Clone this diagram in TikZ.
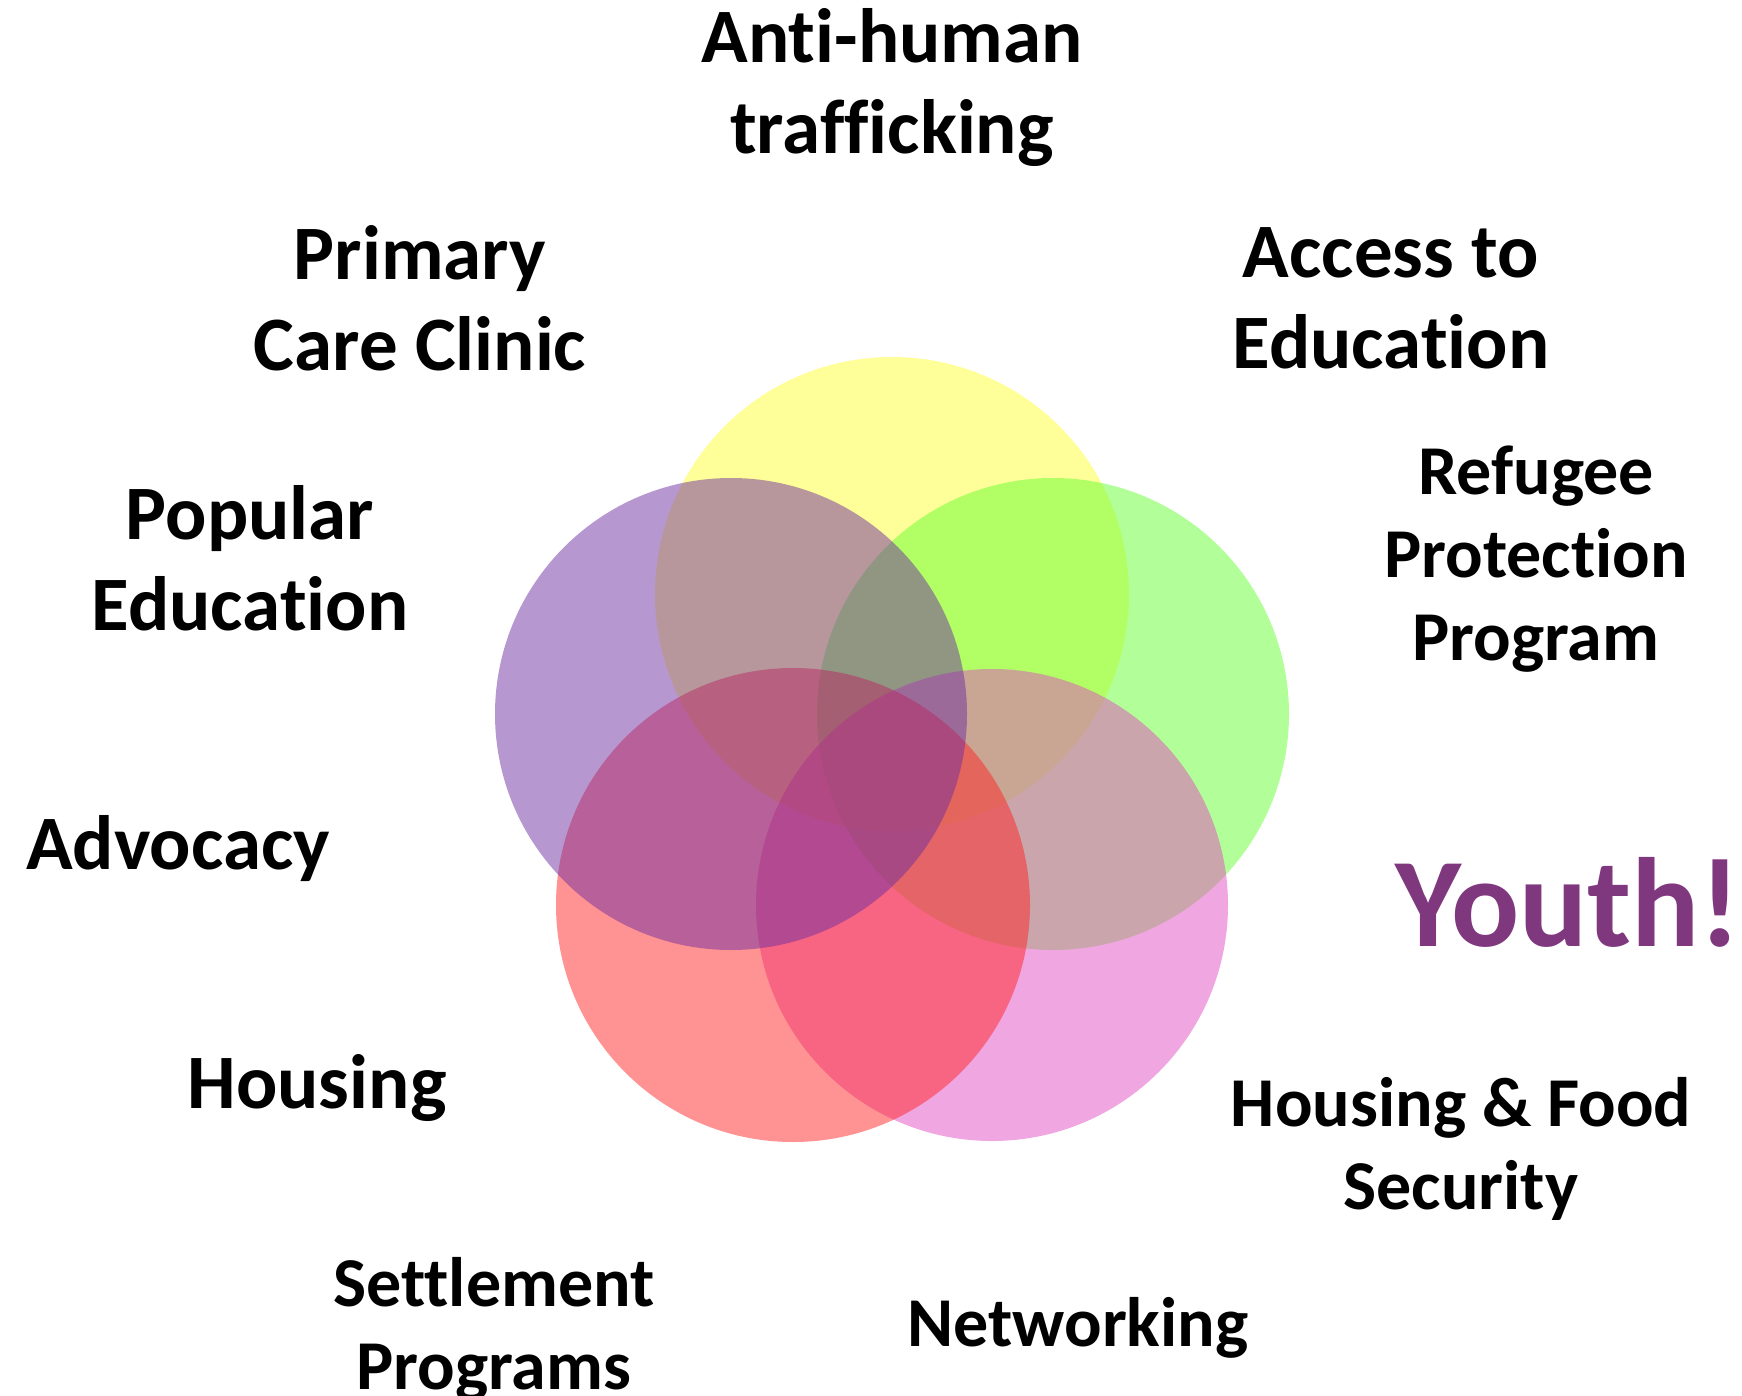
\documentclass[tikz,border=0pt]{standalone}
\usepackage{fontspec}
\setmainfont{Carlito}[Ligatures=NoCommon]
\definecolor{cyellow}{RGB}{255,255,51}
\definecolor{cgreen}{RGB}{102,255,51}
\definecolor{cpink}{RGB}{225,77,193}
\definecolor{cred}{RGB}{255,37,37}
\definecolor{cpurple}{RGB}{112,48,160}
\definecolor{youth}{RGB}{127,55,125}
\tikzset{
  ring/.style={fill=#1, fill opacity=0.5},
  biglabel/.style={align=center, font=\fontsize{77}{91}\selectfont\bfseries},
  smalllabel/.style={align=center, font=\fontsize{70}{83}\selectfont\bfseries},
}
\begin{document}
\begin{tikzpicture}[x=1pt,y=-1pt]
\useasboundingbox (0,0) rectangle (1742,1396);
% the five circles
\coordinate (cy) at (892,594);
\coordinate (cg) at (1053,714);
\coordinate (cp) at (992,905);
\coordinate (cr) at (793,905);
\coordinate (cv) at (731,714);
\fill[ring=cyellow] (cy) circle (237);
\fill[ring=cgreen] (cg) circle (236);
\fill[ring=cpink] (cp) circle (236);
\fill[ring=cred] (cr) circle (237);
\fill[ring=cpurple] (cv) circle (236);

% labels
\node[biglabel] (traffic) at (892,88) {Anti-human\\trafficking};
\node[biglabel] (clinic) at (420,298) {Primary\\Care Clinic};
\node[biglabel] (access) at (1391,298) {Access to\\Education};
\node[biglabel] (popular) at (250,558) {Popular\\Education};
\node[smalllabel] (refugee) at (1536,559) {Refugee\\Protection\\Program};
\node[biglabel] (advocacy) at (178,849) {Advocacy};
\node[font=\fontsize{127}{150}\selectfont\bfseries, text=youth] (youth) at (1568,902) {Youth!};
\node[biglabel] (housing) at (317,1088) {Housing};
\node[smalllabel] (food) at (1461,1149) {Housing \& Food\\Security};
\node[smalllabel] (settle) at (494,1329) {Settlement\\Programs};
\node[smalllabel] (network) at (1078,1328) {Networking};

\end{tikzpicture}
\end{document}
